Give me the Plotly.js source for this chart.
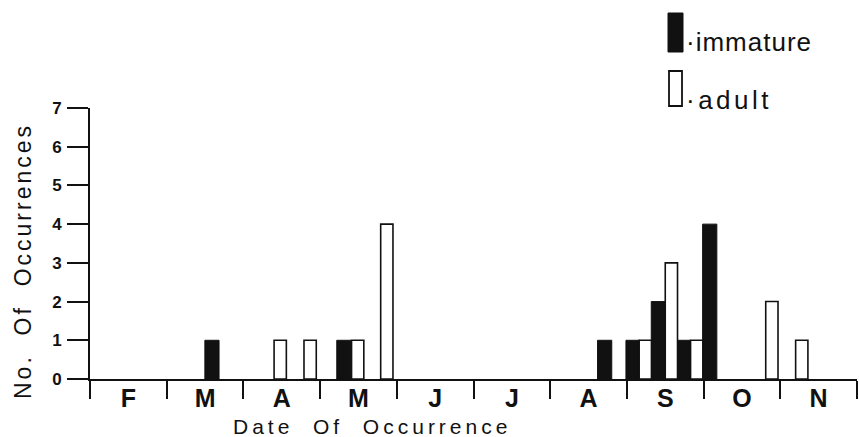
<!DOCTYPE html>
<html>
<head>
<meta charset="utf-8">
<script src="https://cdn.plot.ly/plotly-3.0.1.min.js"></script>
<style>html,body{margin:0;padding:0;background:#fff;}#chart{width:859px;height:437px;}</style>
</head>
<body>
<div id="chart"></div>
<script>
// Month-axis positions (0 = start of February, 1 unit = one month)
const monthLabels = ["F", "M", "A", "M", "J", "J", "A", "S", "O", "N"];
const monthCenters = [0.5, 1.5, 2.5, 3.5, 4.5, 5.5, 6.5, 7.5, 8.5, 9.5];

const immatureX = [1.59, 3.31, 6.71, 7.08, 7.41, 7.74, 8.08];
const immatureY = [1, 1, 1, 1, 2, 1, 4];

const adultX = [2.48, 2.87, 3.49, 3.87, 7.24, 7.58, 7.91, 8.89, 9.28];
const adultY = [1, 1, 1, 4, 1, 3, 1, 2, 1];

const yTicks = [0, 1, 2, 3, 4, 5, 6, 7];

const ink = "#111111";
const font = "Liberation Sans, Arial, Helvetica, sans-serif";

const traces = [
  {
    type: "bar", name: "immature", x: immatureX, y: immatureY, width: 0.185,
    marker: {color: ink, line: {color: ink, width: 1}}
  },
  {
    type: "bar", name: "adult", x: adultX, y: adultY, width: 0.16,
    marker: {color: "#ffffff", line: {color: ink, width: 1.6}}
  }
];

// pixel -> paper helpers for the hand-drawn legend
const L = 90, R = 2, T = 108, B = 58, W = 859 - L - R, H = 437 - T - B;
const px = v => (v - L) / W;
const py = v => (437 - B - v) / H;

const spaced = (s, ls) => '<span style="letter-spacing:' + ls + 'px">' + s + '</span>';

const layout = {
  width: 859, height: 437,
  margin: {l: L, r: R, t: T, b: B, pad: 0},
  paper_bgcolor: "#fff", plot_bgcolor: "#fff",
  barmode: "overlay",
  showlegend: false,
  font: {family: font, color: ink},
  xaxis: {
    range: [0, 10], showgrid: false, zeroline: false,
    showline: true, linecolor: ink, linewidth: 2,
    tickvals: monthCenters, ticktext: monthLabels, ticks: "",
    tickfont: {family: font, size: 25, color: ink, weight: "bold"},
    ticklabelstandoff: -4,
    minor: {tick0: 0, dtick: 1, ticks: "outside", ticklen: 18, tickwidth: 2, tickcolor: ink, showgrid: false}
  },
  yaxis: {
    range: [0, 7], showgrid: false, zeroline: false,
    showline: true, linecolor: ink, linewidth: 2,
    tickvals: yTicks, ticks: "outside", ticklen: 21, tickwidth: 2, tickcolor: ink,
    ticklabelstandoff: 2,
    tickfont: {family: font, size: 17, color: ink, weight: "bold"}
  },
  shapes: [
    {type: "rect", xref: "paper", yref: "paper", x0: px(668), x1: px(683), y0: py(52), y1: py(13),
     fillcolor: ink, line: {color: ink, width: 1}},
    {type: "rect", xref: "paper", yref: "paper", x0: px(669), x1: px(682), y0: py(106), y1: py(71),
     fillcolor: "#fff", line: {color: ink, width: 1.8}},
    {type: "line", xref: "paper", yref: "paper", x0: px(90), x1: px(90), y0: py(379), y1: py(396),
     line: {color: ink, width: 2}}
  ],
  annotations: [
    {text: spaced("·immature", 1), xref: "paper", yref: "paper", x: px(684), y: py(42), xanchor: "left", yanchor: "middle",
     showarrow: false, font: {family: font, size: 26, color: ink}},
    {text: spaced("·adult", 3.5), xref: "paper", yref: "paper", x: px(684), y: py(100), xanchor: "left", yanchor: "middle",
     showarrow: false, font: {family: font, size: 26, color: ink}},
    {text: spaced("Date  Of  Occurrence", 4), xref: "paper", yref: "paper", x: px(231), y: py(426), xanchor: "left", yanchor: "middle",
     showarrow: false, font: {family: font, size: 21, color: ink}},
    {text: spaced("No.  Of  Occurrences", 3), xref: "paper", yref: "paper", x: px(23), y: py(261), xanchor: "center", yanchor: "middle",
     textangle: -90, showarrow: false, font: {family: font, size: 23, color: ink}}
  ]
};

Plotly.newPlot("chart", traces, layout, {staticPlot: true, displayModeBar: false});
</script>
</body>
</html>
